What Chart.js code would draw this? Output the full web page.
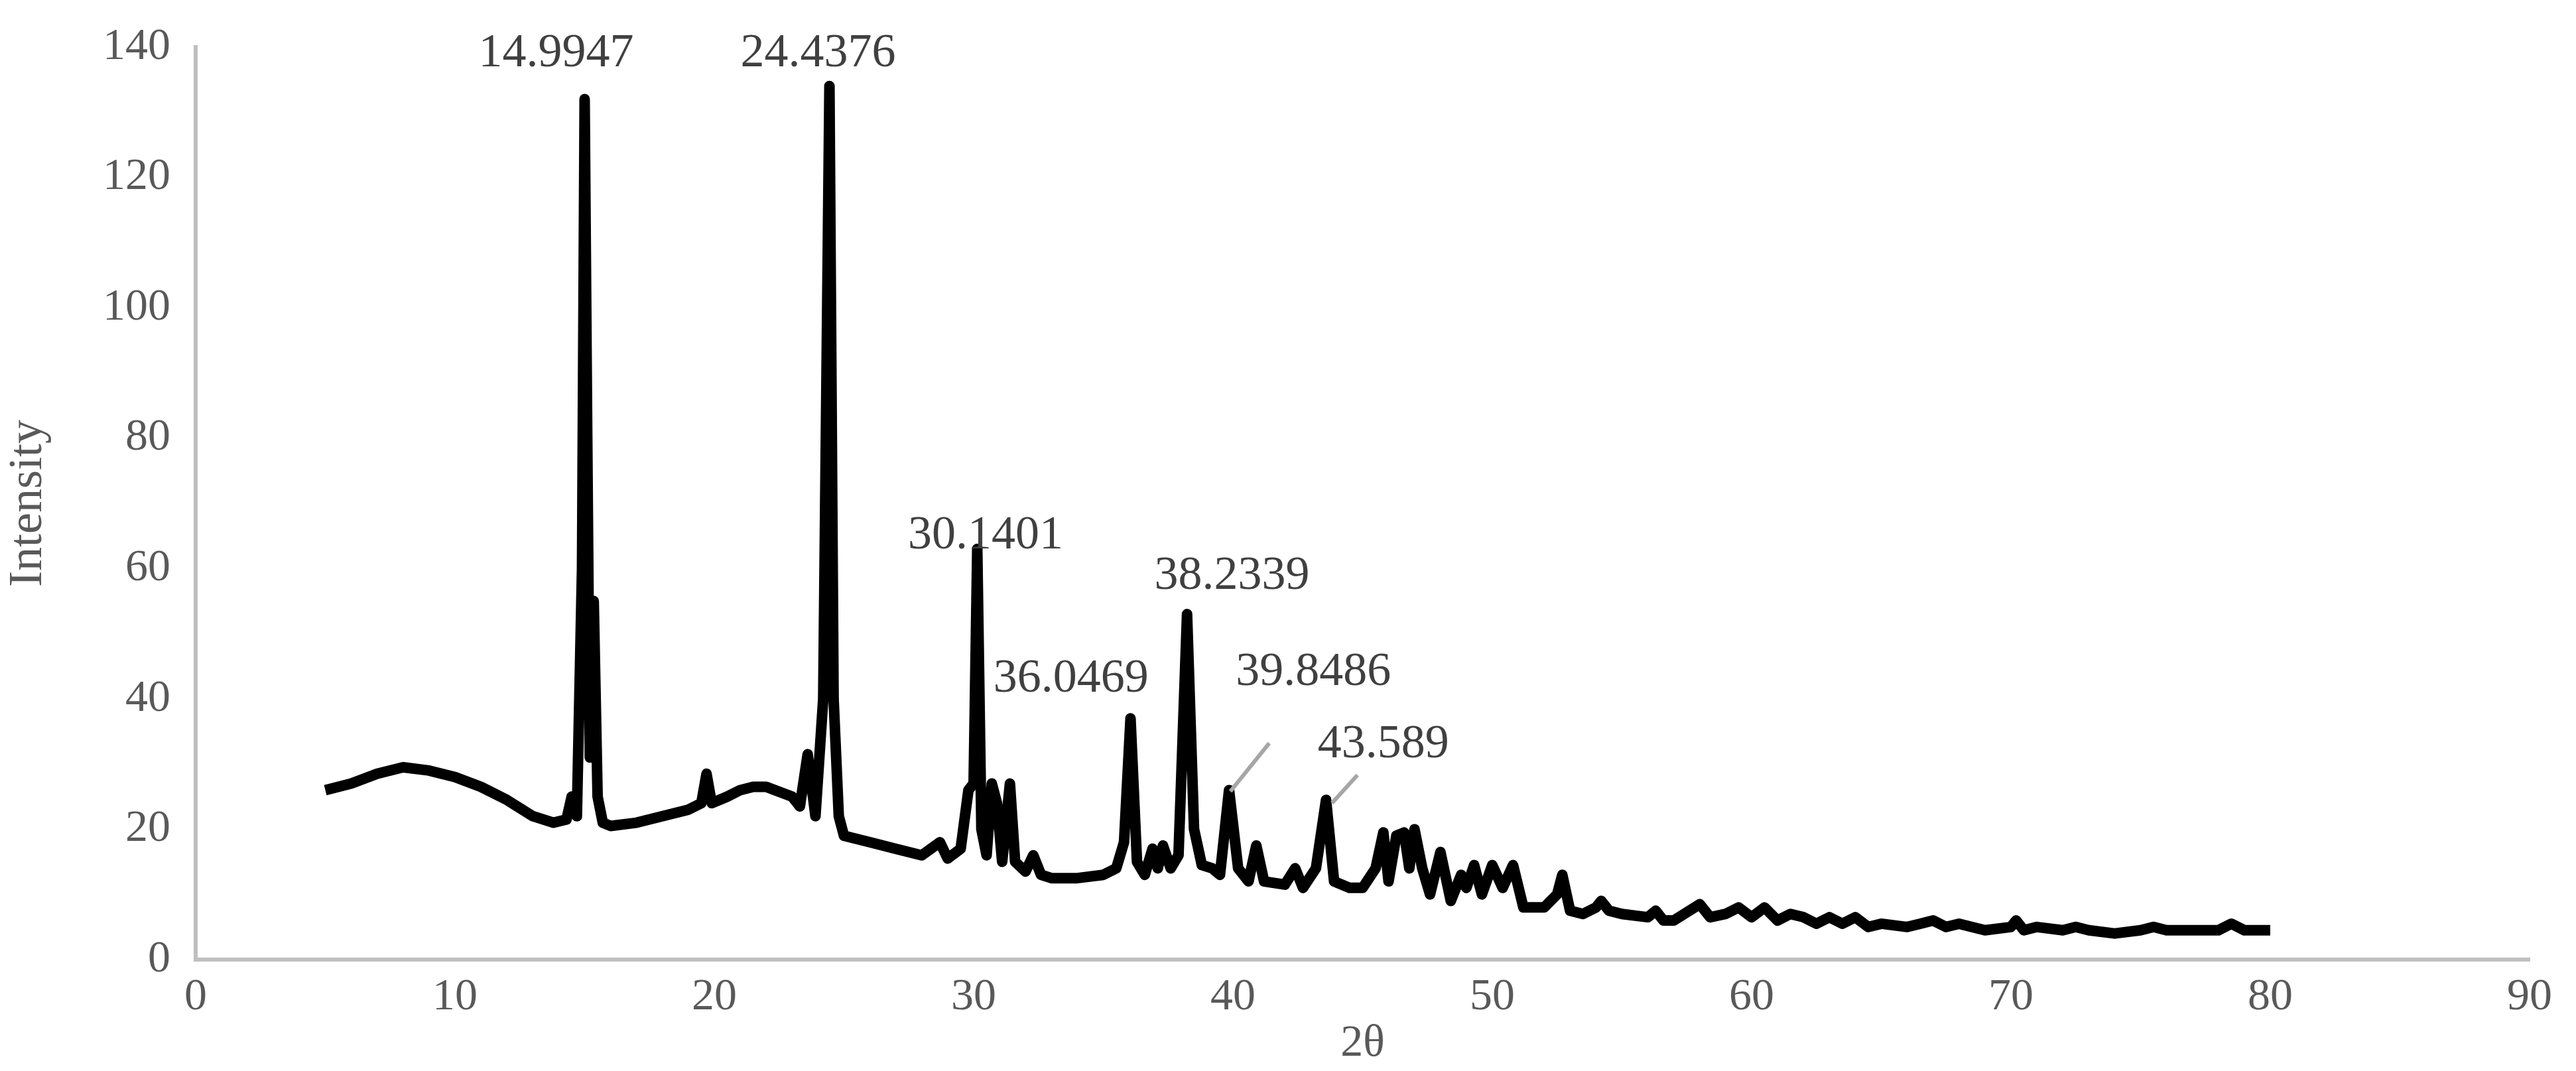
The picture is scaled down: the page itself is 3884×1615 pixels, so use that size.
<!DOCTYPE html>
<html><head><meta charset="utf-8">
<script src="https://cdn.jsdelivr.net/npm/chart.js@4/dist/chart.umd.min.js"></script>
<style>html,body{margin:0;padding:0;background:#fff}#w{width:3884px;height:1615px}</style>
</head><body><div id="w"><canvas id="c"></canvas></div>
<script>
const twoTheta = [5,6,7,8,9,10,11,12,13,13.8,14.3,14.5,14.7,14.9,15.0,15.1,15.2,15.35,15.5,15.7,16,17,18,19,19.5,19.7,19.9,20.5,21,21.5,22,23,23.3,23.6,23.9,24.2,24.44,24.6,24.8,25,26,27,28,28.7,29,29.5,29.8,30.0,30.14,30.3,30.5,30.7,30.9,31.1,31.4,31.6,32,32.3,32.6,33,34,35,35.5,35.8,36.05,36.3,36.6,36.9,37.1,37.3,37.6,37.9,38.23,38.5,38.8,39.2,39.5,39.85,40.2,40.6,40.9,41.2,42,42.4,42.7,43.2,43.59,43.9,44.5,45,45.5,45.8,46.0,46.3,46.6,46.8,47.0,47.3,47.6,48.0,48.4,48.8,49.0,49.3,49.6,50.0,50.4,50.8,51.2,52,52.5,52.7,53,53.5,54,54.2,54.5,55,56,56.3,56.6,57,58,58.4,59,59.5,60,60.5,61,61.5,62,62.5,63,63.5,64,64.5,65,66,66.5,67,67.5,68,69,70,70.2,70.5,71,72,72.5,73,74,75,75.5,76,77,78,78.5,79,80];
const intensity = [26,27,28.5,29.5,29,28,26.5,24.5,22,21,21.5,25,22,60,132,80,31,55,25,21,20.5,21,22,23,24,28.5,24,25,26,26.5,26.5,25,23.5,31.5,22,40,134,40,22,19,18,17,16,18,15.5,17,26,27,63,20,16,27,24,15,27,15,13.5,16,13,12.5,12.5,13,14,18,37,15,13,17,14,17.5,14,16,53,20,14.5,14,13,26,14,12,17.5,12,11.5,14,11,14,24.5,12,11,11,14,19.5,12,19,19.5,14,20,14,10,16.5,9,13,11,14.5,10,14.5,11,14.5,8,8,10,13,7.5,7,8,9,7.5,7,6.5,7.5,6,6,8.5,6.5,7,8,6.5,8,6,7,6.5,5.5,6.5,5.5,6.5,5,5.5,5,5.5,6,5,5.5,4.5,5,6,4.5,5,4.5,5,4.5,4,4.5,5,4.5,4.5,4.5,5.5,4.5,4.5];
const peakLabels = ["14.9947","24.4376","30.1401","36.0469","38.2339","39.8486","43.589"];
const labelX = [13.9,24.0,30.46,33.75,39.96,43.1,45.8];
const labelY = [139,139,65,43,58.8,44,33];
const xTicks = [0,10,20,30,40,50,60,70,80,90];
const yTicks = [0,20,40,60,80,100,120,140];

const pts = twoTheta.map((x,i)=>({x:x,y:intensity[i]}));
const labelPlugin = {
  id:'peaks',
  afterDatasetsDraw(chart){
    const {ctx,scales:{x,y}} = chart;
    ctx.save();
    ctx.strokeStyle='#a6a6a6'; ctx.lineWidth=6;
    ctx.beginPath();
    ctx.moveTo(x.getPixelForValue(39.9),y.getPixelForValue(25.8));
    ctx.lineTo(x.getPixelForValue(41.4),y.getPixelForValue(33.2));
    ctx.moveTo(x.getPixelForValue(43.82),y.getPixelForValue(24));
    ctx.lineTo(x.getPixelForValue(44.8),y.getPixelForValue(28.3));
    ctx.stroke();
    ctx.fillStyle='#404040';
    ctx.font='72px "Liberation Serif"';
    ctx.textAlign='center'; ctx.textBaseline='middle';
    peakLabels.forEach((t,i)=>ctx.fillText(t,x.getPixelForValue(labelX[i]),y.getPixelForValue(labelY[i])));
    ctx.restore();
  }
};
new Chart(document.getElementById('c'),{
  type:'scatter',
  data:{datasets:[{data:pts,showLine:true,borderColor:'#000',borderWidth:16,pointRadius:0,tension:0,borderJoinStyle:'round'}]},
  options:{
    responsive:true,maintainAspectRatio:false,animation:false,devicePixelRatio:1,
    layout:{padding:{left:0,right:70,top:50,bottom:0}},
    plugins:{legend:{display:false},tooltip:{enabled:false}},
    scales:{
      x:{type:'linear',min:0,max:90,
        afterBuildTicks(s){s.ticks=xTicks.map(v=>({value:v}));},
        afterFit(s){s.height=168;},
        grid:{display:false},border:{display:true,color:'#bfbfbf',width:6},
        ticks:{color:'#595959',font:{family:'Liberation Serif',size:68},padding:8},
        title:{display:true,text:'2θ',color:'#595959',font:{family:'Liberation Serif',size:68},padding:{top:-30,bottom:0}}},
      y:{type:'linear',min:0,max:140,
        afterBuildTicks(s){s.ticks=yTicks.map(v=>({value:v}));},
        afterFit(s){s.width=295;},
        grid:{display:false},border:{display:true,color:'#bfbfbf',width:6},
        ticks:{color:'#595959',font:{family:'Liberation Serif',size:68},padding:30},
        title:{display:true,text:'Intensity',color:'#595959',font:{family:'Liberation Serif',size:72},padding:{top:0,bottom:0}}}
    }
  },
  plugins:[labelPlugin]
});
</script></body></html>
